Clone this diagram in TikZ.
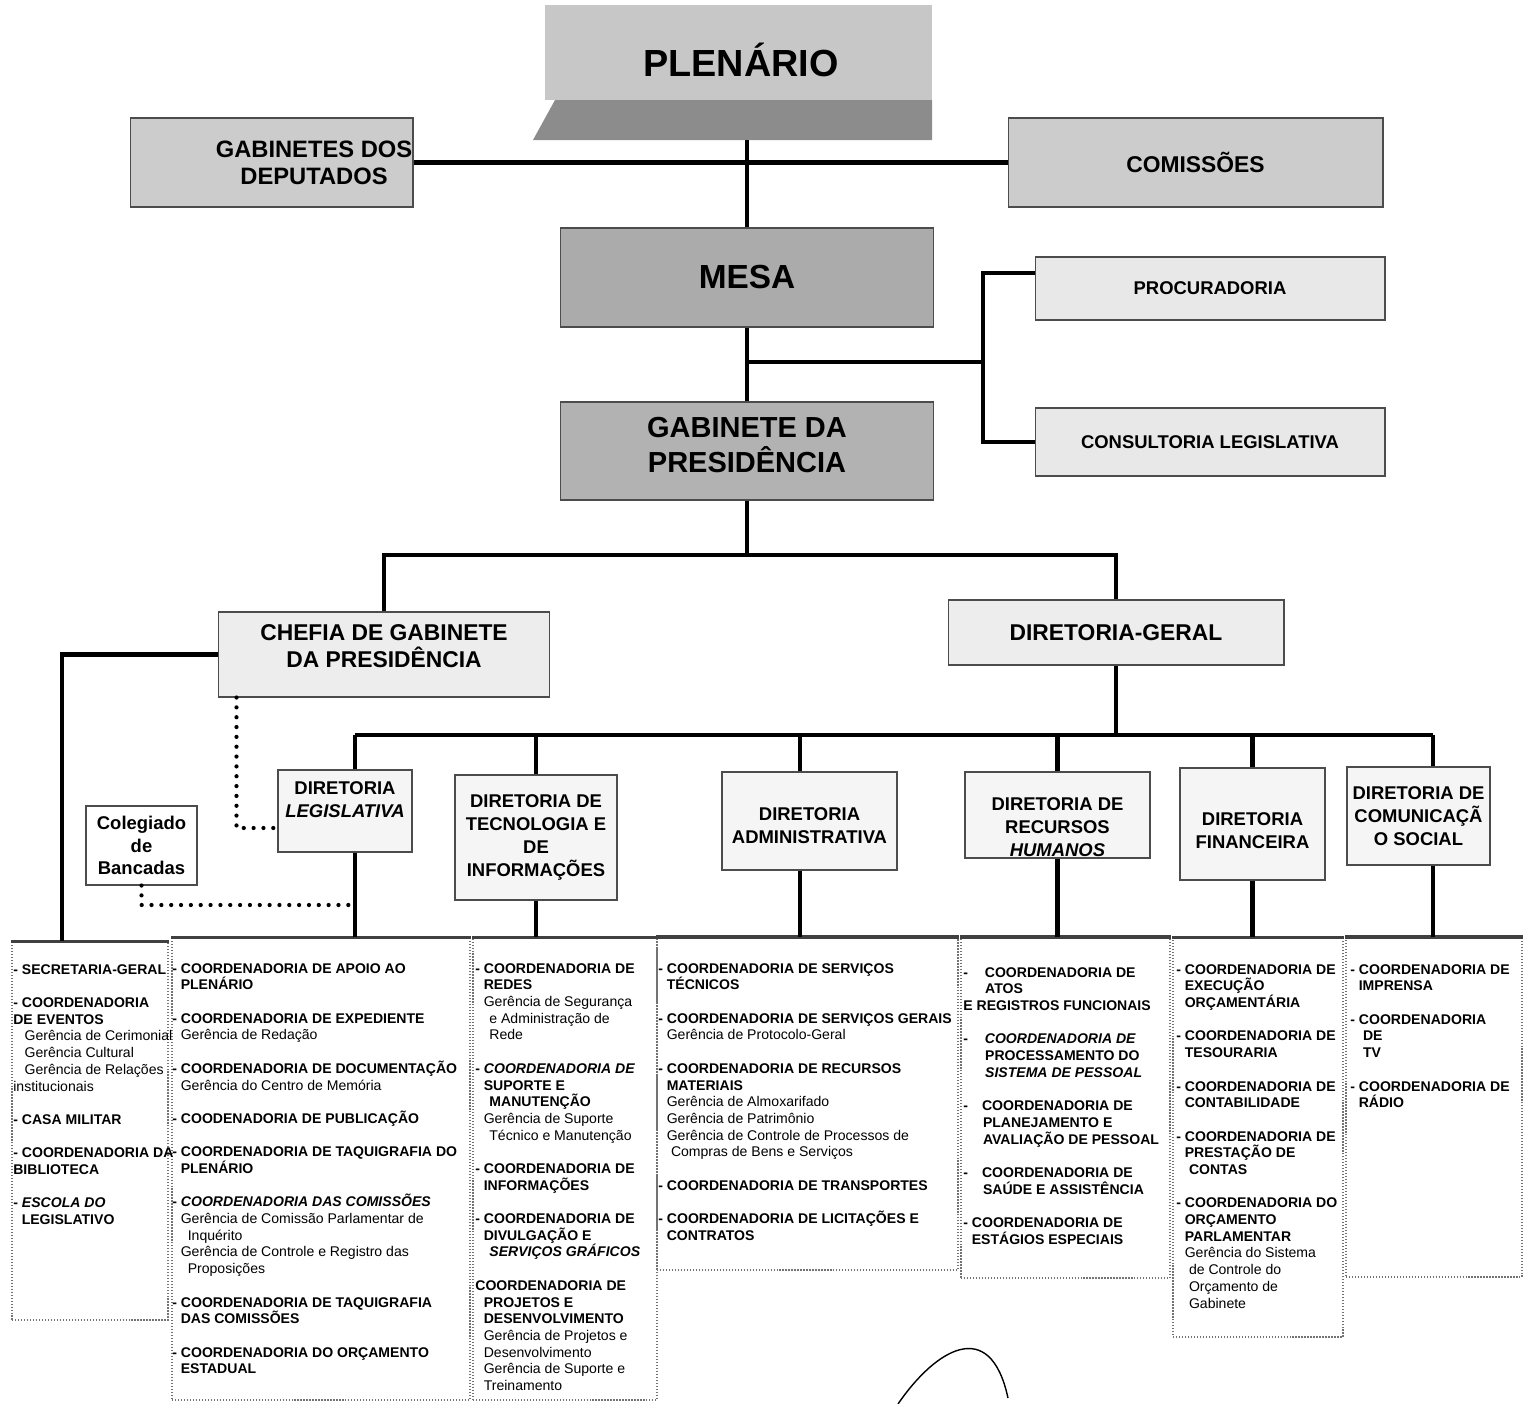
\documentclass[tikz,border=0pt]{standalone}
\usepackage{fontspec}
\setmainfont{Liberation Sans}

\newcommand{\indt}{\hspace*{0.6em}}
\newcommand{\ger}[1]{{\mdseries #1}}

\tikzset{
  conn/.style={line width=2.6pt},
  dotline/.style={line width=2.4pt, dash pattern=on 0pt off 5.6pt, line cap=round},
  box/.style={draw=black!70, line width=0.6pt, inner sep=0pt, align=center},
  headbox/.style={box, fill=black!20},
  dirbox/.style={box, fill=black!4, font=\fontsize{10.5}{13}\selectfont\bfseries},
  dirtext/.style={align=center, inner sep=0pt, font=\fontsize{10.5}{13}\selectfont\bfseries},
  colbox/.style={draw=black!55, densely dotted, line width=0.7pt, inner sep=0pt},
  coltext/.style={anchor=north west, inner sep=0pt, align=left, font=\fontsize{8}{9.5}\selectfont\bfseries},
  topedge/.style={draw=black!75, line width=2.2pt},
}

\begin{document}
\begin{tikzpicture}[x=0.02cm, y=-0.02cm]
  \useasboundingbox (0,0) rectangle (1526,1404);
  % plenario block
  \fill[black!22] (545,5) rectangle (932,100);
  \fill[black!45] (555,100) -- (932,100) -- (932,140) -- (533,140) -- cycle;
  \node[inner sep=0pt, minimum width=7.98cm, minimum height=2.7cm] (plen) at (732.5,72.5) {};
  \node[font=\fontsize{21.5}{24}\selectfont\bfseries] (plent) at (741,60) {PLENÁRIO};
  % upper boxes
  \node[headbox, minimum width=5.66cm, minimum height=1.78cm] (gab) at (271.5,162.5) {};
  \node[align=center, font=\fontsize{13.5}{15}\selectfont\bfseries] (gabt) at (314,163) {GABINETES DOS\\DEPUTADOS};
  \node[headbox, minimum width=7.5cm, minimum height=1.78cm, font=\fontsize{13}{15}\selectfont\bfseries] (com) at (1195.5,162.5) {COMISSÕES};
  \node[headbox, fill=black!33, minimum width=7.48cm, minimum height=1.98cm, font=\fontsize{19}{22}\selectfont\bfseries] (mesa) at (747,277.5) {MESA};
  \node[headbox, fill=black!9, minimum width=7cm, minimum height=1.26cm, font=\fontsize{10.5}{13}\selectfont\bfseries] (proc) at (1210,288.5) {PROCURADORIA};
  \node[headbox, fill=black!9, minimum width=7cm, minimum height=1.36cm, font=\fontsize{10.5}{13}\selectfont\bfseries] (cons) at (1210,442) {CONSULTORIA LEGISLATIVA};
  \node[headbox, fill=black!30, minimum width=7.48cm, minimum height=1.96cm] (gpres) at (747,451) {};
  \node[align=center, font=\fontsize{16.5}{19.5}\selectfont\bfseries] (gprest) at ([yshift=0.12cm]gpres.center) {GABINETE DA\\PRESIDÊNCIA};
  \node[headbox, fill=black!7, minimum width=6.64cm, minimum height=1.7cm] (chefia) at (384,654.5) {};
  \node[align=center, font=\fontsize{13}{15.5}\selectfont\bfseries] (chefiat) at ([yshift=0.16cm]chefia.center) {CHEFIA DE GABINETE\\DA PRESIDÊNCIA};
  \node[headbox, fill=black!7, minimum width=6.72cm, minimum height=1.3cm, font=\fontsize{13}{15.5}\selectfont\bfseries] (dg) at (1116,632.5) {DIRETORIA-GERAL};
  % diretorias
  \node[dirbox, minimum width=2.68cm, minimum height=1.64cm] (dleg) at (345,811) {};
  \node[dirtext] (dlegt) at ([yshift=0.22cm]dleg.center) {DIRETORIA\\\textit{LEGISLATIVA}};
  \node[dirbox, minimum width=3.24cm, minimum height=2.5cm] (dtec) at (536,837.5) {DIRETORIA DE\\TECNOLOGIA E\\DE\\INFORMAÇÕES};
  \node[dirbox, minimum width=3.5cm, minimum height=1.96cm] (dadm) at (809.5,821) {};
  \node[dirtext] (dadmt) at ([yshift=-0.1cm]dadm.center) {DIRETORIA\\ADMINISTRATIVA};
  \node[dirbox, minimum width=3.7cm, minimum height=1.72cm] (drh) at (1057.5,815) {};
  \node[dirtext] (drht) at ([yshift=-0.24cm]drh.center) {DIRETORIA DE\\RECURSOS\\\textit{HUMANOS}};
  \node[dirbox, minimum width=2.9cm, minimum height=2.24cm] (dfin) at (1252.5,824) {};
  \node[dirtext] (dfint) at ([yshift=-0.14cm]dfin.center) {DIRETORIA\\FINANCEIRA};
  \node[dirbox, minimum width=2.86cm, minimum height=1.96cm] (dcom) at (1418.5,816) {DIRETORIA DE\\COMUNICAÇÃ\\O SOCIAL};
  \node[dirbox, fill=white, minimum width=2.22cm, minimum height=1.58cm] (coleg) at (141.5,845.5) {Colegiado\\de\\Bancadas};
  % columns
  \node[colbox, minimum width=3.12cm, minimum height=7.56cm] (c1) at (90,1131) {};
  \node[colbox, minimum width=5.96cm, minimum height=9.24cm] (c2) at (321,1169) {};
  \node[colbox, minimum width=3.68cm, minimum height=9.24cm] (c3) at (565,1169) {};
  \node[colbox, minimum width=6.02cm, minimum height=6.64cm] (c4) at (807.5,1104) {};
  \node[colbox, minimum width=4.18cm, minimum height=6.8cm] (c5) at (1065.5,1108) {};
  \node[colbox, minimum width=3.4cm, minimum height=7.98cm] (c6) at (1258,1137.5) {};
  \node[colbox, minimum width=3.52cm, minimum height=6.78cm] (c7) at (1434,1107.5) {};
  \foreach \c in {c1,c2,c3,c4,c5,c6,c7}
    \draw[topedge] (\c.north west) -- (\c.north east);
  % column texts
  \node[coltext] (t1) at (13,964) {- SECRETARIA-GERAL\\[9.5pt]
    - COORDENADORIA\\
    DE EVENTOS\\
    \ger{\hspace*{0.8em}Gerência de Cerimonial}\\
    \ger{\hspace*{0.8em}Gerência Cultural}\\
    \ger{\hspace*{0.8em}Gerência de Relações}\\
    \ger{institucionais}\\[9.5pt]
    - CASA MILITAR\\[9.5pt]
    - COORDENADORIA DA\\
    BIBLIOTECA\\[9.5pt]
    - \textit{ESCOLA DO}\\
    \indt LEGISLATIVO};
  \node[coltext] (t2) at (172,963) {- COORDENADORIA DE APOIO AO\\
    \indt PLENÁRIO\\[9.5pt]
    - COORDENADORIA DE EXPEDIENTE\\
    \indt\ger{Gerência de Redação}\\[9.5pt]
    - COORDENADORIA DE DOCUMENTAÇÃO\\
    \indt\ger{Gerência do Centro de Memória}\\[9.5pt]
    - COODENADORIA DE PUBLICAÇÃO\\[9.5pt]
    - COORDENADORIA DE TAQUIGRAFIA DO\\
    \indt PLENÁRIO\\[9.5pt]
    - \textit{COORDENADORIA DAS COMISSÕES}\\
    \indt\ger{Gerência de Comissão Parlamentar de}\\
    \indt\ger{\hspace*{0.5em}Inquérito}\\
    \indt\ger{Gerência de Controle e Registro das}\\
    \indt\ger{\hspace*{0.5em}Proposições}\\[9.5pt]
    - COORDENADORIA DE TAQUIGRAFIA\\
    \indt DAS COMISSÕES\\[9.5pt]
    - COORDENADORIA DO ORÇAMENTO\\
    \indt ESTADUAL};
  \node[coltext] (t3) at (475,963) {- COORDENADORIA DE\\
    \indt REDES\\
    \indt\ger{Gerência de Segurança}\\
    \indt\ger{\hspace*{0.4em}e Administração de}\\
    \indt\ger{\hspace*{0.4em}Rede}\\[9.5pt]
    - \textit{COORDENADORIA DE}\\
    \indt SUPORTE E\\
    \indt\hspace*{0.4em}MANUTENÇÃO\\
    \indt\ger{Gerência de Suporte}\\
    \indt\ger{\hspace*{0.4em}Técnico e Manutenção}\\[9.5pt]
    - COORDENADORIA DE\\
    \indt INFORMAÇÕES\\[9.5pt]
    - COORDENADORIA DE\\
    \indt DIVULGAÇÃO E\\
    \indt\hspace*{0.4em}\textit{SERVIÇOS GRÁFICOS}\\[9.5pt]
    COORDENADORIA DE\\
    \indt PROJETOS E\\
    \indt DESENVOLVIMENTO\\
    \indt\ger{Gerência de Projetos e}\\
    \indt\ger{Desenvolvimento}\\
    \indt\ger{Gerência de Suporte e}\\
    \indt\ger{Treinamento}};
  \node[coltext] (t4) at (658,963) {- COORDENADORIA DE SERVIÇOS\\
    \indt TÉCNICOS\\[9.5pt]
    - COORDENADORIA DE SERVIÇOS GERAIS\\
    \indt\ger{Gerência de Protocolo-Geral}\\[9.5pt]
    - COORDENADORIA DE RECURSOS\\
    \indt MATERIAIS\\
    \indt\ger{Gerência de Almoxarifado}\\
    \indt\ger{Gerência de Patrimônio}\\
    \indt\ger{Gerência de Controle de Processos de}\\
    \indt\ger{\hspace*{0.3em}Compras de Bens e Serviços}\\[9.5pt]
    - COORDENADORIA DE TRANSPORTES\\[9.5pt]
    - COORDENADORIA DE LICITAÇÕES E\\
    \indt CONTRATOS};
  \node[coltext] (t5) at (963,967) {-\hspace*{1.2em}COORDENADORIA DE\\
    \hspace*{1.55em}ATOS\\
    E REGISTROS FUNCIONAIS\\[9.5pt]
    -\hspace*{1.2em}\textit{COORDENADORIA DE}\\
    \hspace*{1.55em}PROCESSAMENTO DO\\
    \hspace*{1.55em}\textit{SISTEMA DE PESSOAL}\\[9.5pt]
    -\hspace*{1em}COORDENADORIA DE\\
    \hspace*{1.4em}PLANEJAMENTO E\\
    \hspace*{1.4em}AVALIAÇÃO DE PESSOAL\\[9.5pt]
    -\hspace*{1em}COORDENADORIA DE\\
    \hspace*{1.4em}SAÚDE E ASSISTÊNCIA\\[9.5pt]
    - COORDENADORIA DE\\
    \indt ESTÁGIOS ESPECIAIS};
  \node[coltext] (t6) at (1176,964) {- COORDENADORIA DE\\
    \indt EXECUÇÃO\\
    \indt ORÇAMENTÁRIA\\[9.5pt]
    - COORDENADORIA DE\\
    \indt TESOURARIA\\[9.5pt]
    - COORDENADORIA DE\\
    \indt CONTABILIDADE\\[9.5pt]
    - COORDENADORIA DE\\
    \indt PRESTAÇÃO DE\\
    \indt\hspace*{0.3em}CONTAS\\[9.5pt]
    - COORDENADORIA DO\\
    \indt ORÇAMENTO\\
    \indt PARLAMENTAR\\
    \indt\ger{Gerência do Sistema}\\
    \indt\ger{\hspace*{0.3em}de Controle do}\\
    \indt\ger{\hspace*{0.3em}Orçamento de}\\
    \indt\ger{\hspace*{0.3em}Gabinete}};
  \node[coltext] (t7) at (1350,964) {- COORDENADORIA DE\\
    \indt IMPRENSA\\[9.5pt]
    - COORDENADORIA\\
    \indt\hspace*{0.3em}DE\\
    \indt\hspace*{0.3em}TV\\[9.5pt]
    - COORDENADORIA DE\\
    \indt RÁDIO};
  % connectors
  \draw[conn] (mesa.north |- plen.south) -- (mesa.north);
  \draw[conn] (gab.east) -- (com.west);
  \draw[conn] (mesa.south) -- (gpres.north);
  \coordinate (br) at (983,362);
  \draw[conn] (mesa.south |- br) -- (br);
  \draw[conn] ([yshift=0.31cm]proc.west) -| (br) |- (cons.west);
  \coordinate (bar1) at (745,555);
  \draw[conn] (gpres.south) -- (gpres.south |- bar1);
  \draw[conn] (chefia.north) |- (bar1) -| (dg.north);
  \draw[conn] (chefia.west) -| ([xshift=-0.56cm]c1.north);
  \draw[dotline] ([xshift=0.38cm]chefia.south west) |- ([yshift=-0.34cm]dleg.west);
  \coordinate (bar2) at (1108,735);
  \draw[conn] (dg.south) -- (dg.south |- bar2);
  \draw[conn] ([xshift=0.2cm]dleg.north |- bar2) -- ([xshift=0.29cm]dcom.north |- bar2);
  \foreach \d/\c/\s in {dleg/c2/0.2, dtec/c3/0, dadm/c4/-0.19, drh/c5/0, dfin/c6/0, dcom/c7/0.29}{
    \draw[conn] ([xshift=\s cm]\d.north |- bar2) -- ([xshift=\s cm]\d.north);
    \draw[conn] ([xshift=\s cm]\d.south) -- ([xshift=\s cm]\d.south |- \c.north);
  }
  \coordinate (dj) at (355,905);
  \draw[dotline] (coleg.south) |- (dj);
  % hand stroke
  \draw[line width=0.8pt] (898,1404) .. controls (935,1350) and (990,1315) .. (1008,1398);
\end{tikzpicture}
\end{document}
